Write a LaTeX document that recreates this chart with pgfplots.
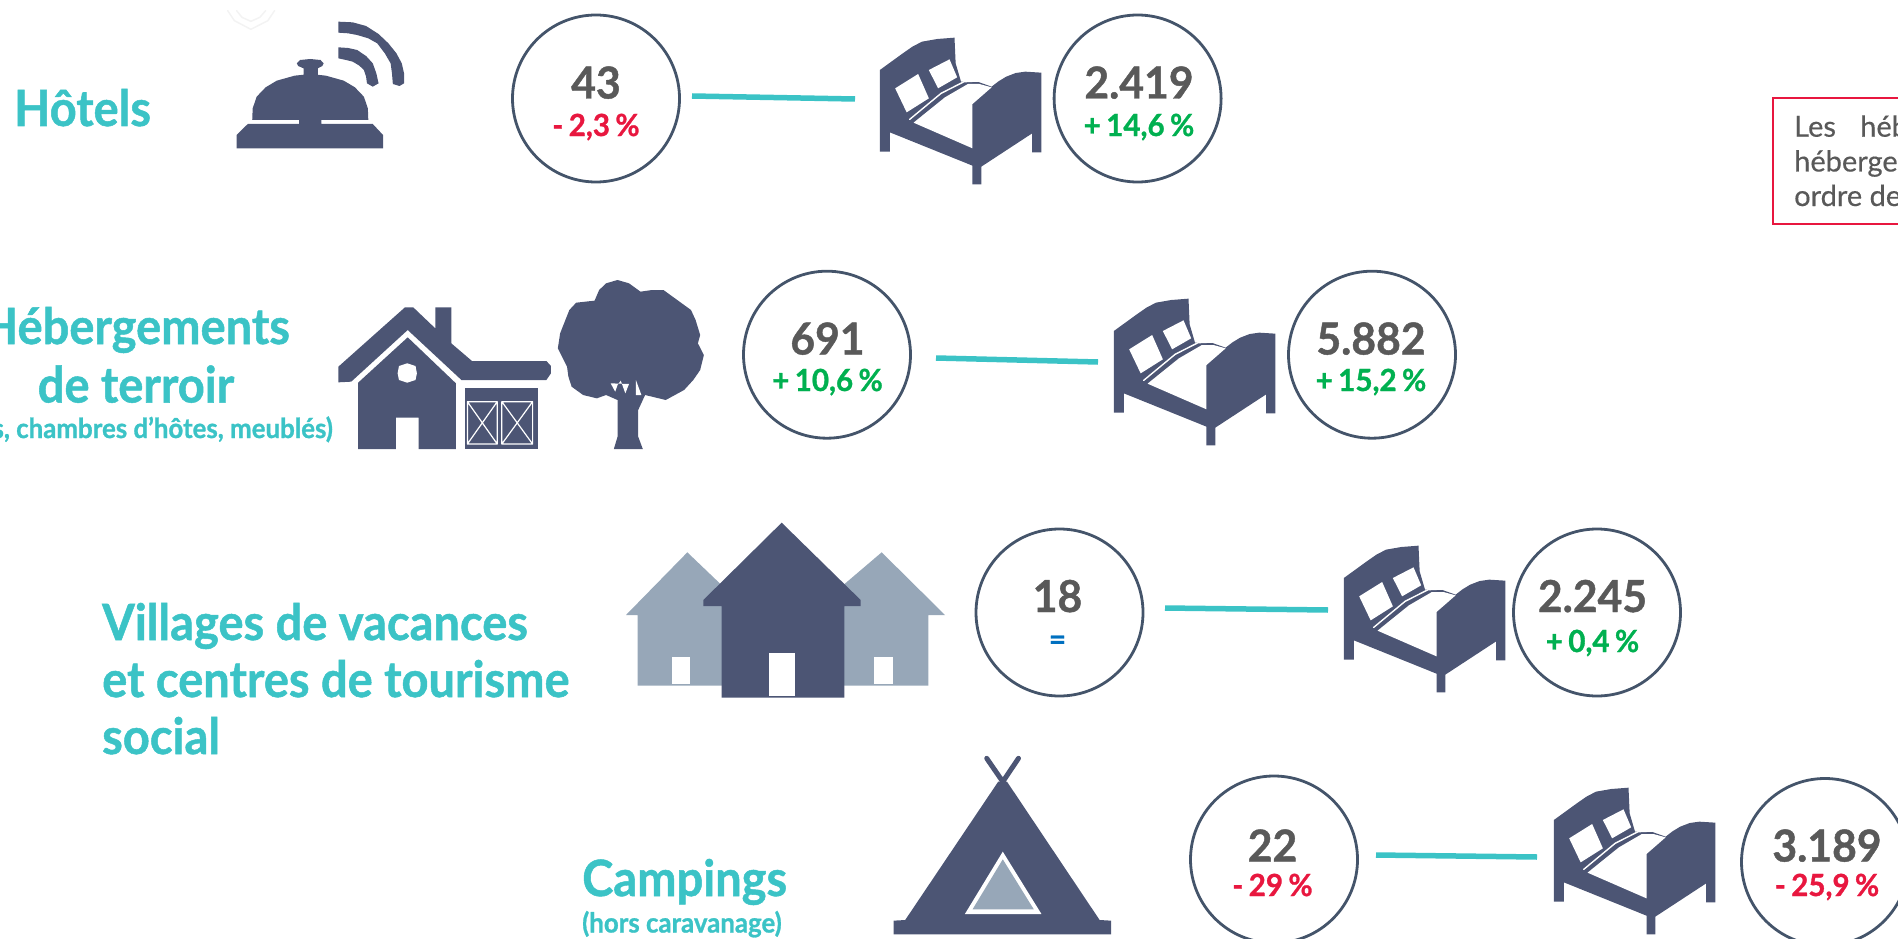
\documentclass[border=0pt]{standalone}
\usepackage{fontspec}
\setmainfont{Lato}
\newfontfamily\squeezed[FakeStretch=0.94,BoldFeatures={FakeBold=1}]{Lato}
\newfontfamily\figures[FakeStretch=0.97,WordSpace=0.75,BoldFeatures={FakeBold=1}]{Lato}
\newfontfamily\notefont[FakeBold=0.4]{Lato}
\usepackage{pgfplots}
\usepackage{pgfplotstable}
\pgfplotsset{compat=1.18}

\definecolor{teal1}{HTML}{3BC3C6}
\definecolor{navy}{HTML}{4C5574}
\definecolor{slate}{HTML}{97A7B8}
\definecolor{ring}{HTML}{44546A}
\definecolor{txt}{HTML}{595959}
\definecolor{neg}{HTML}{E8173F}
\definecolor{pos}{HTML}{00B050}
\definecolor{same}{HTML}{0070C0}
\definecolor{faint}{HTML}{F3F3F3}

% icon outlines, read off the zoomed crops
\pgfplotstableread{
x y
470 210
500 185
530 160
555 140
580 125
620 117
665 113
668 190
682 245
720 243
762 260
780 244
800 230
825 219
850 215
892 218
892 457
868 457
868 400
735 500
735 553
712 553
712 497
496 397
496 455
470 455
}\bedouter
\pgfplotstableread{
x y
510 265
570 222
598 295
540 337
}\pillowa
\pgfplotstableread{
x y
598 210
652 178
672 232
622 265
}\pillowb
\pgfplotstableread{
x y
558 368
640 292
700 252
730 252
762 262
712 312
712 445
}\blanket
\pgfplotstableread{
x y
548 358
630 280
690 245
730 243
}\fold

\pgfplotstableread{
x y
565 360
566 325
575 290
595 262
620 242
660 227
695 222
730 227
770 242
795 262
815 290
824 325
825 360
720 360
720 372
835 372
858 405
858 445
530 445
530 405
555 372
670 372
670 360
}\bell
\pgfplotstableread{
x y
680 225
680 205
668 198
665 190
672 180
695 177
718 180
725 190
722 198
712 205
712 225
}\knob
\pgfplotstableread{
x y
758 65
790 67
820 78
848 102
870 130
888 160
900 190
905 220
905 250
895 258
880 252
878 220
875 190
862 160
845 130
825 115
800 105
780 100
758 98
}\wavea
\pgfplotstableread{
x y
758 142
780 144
800 150
820 168
835 190
843 220
848 250
835 260
822 250
820 230
815 210
805 197
790 185
775 180
758 175
}\waveb
\pgfplotstableread{
x y
510 32
525 62
562 88
600 62
615 32
}\ghosta
\pgfplotstableread{
x y
530 32
542 52
562 64
582 52
595 32
}\ghostb

\pgfplotstableread{
x y
737 320
882 142
900 142
948 205
948 142
983 142
983 250
1028 303
1190 303
1200 318
1200 340
1190 360
1005 360
888 210
765 365
737 367
}\roof
\pgfplotstableread{
x y
780 368
888 232
993 370
993 567
912 567
912 473
862 473
862 567
780 567
}\housebody
\pgfplotstableread{
x y
887 310
905 318
908 340
905 360
887 368
869 360
866 340
869 318
}\housewin
\pgfplotstableread{
x y
1012 385
1172 385
1172 567
1012 567
}\garage
\pgfplotstableread{
x y
1018 425
1083 425
1083 552
1018 552
1018 425
1083 552
1018 552
1083 425
}\garagea
\pgfplotstableread{
x y
1093 425
1160 425
1160 552
1093 552
1093 425
1160 552
1093 552
1160 425
}\garageb
\pgfplotstableread{
x y
1345 60
1370 70
1395 95
1420 90
1445 90
1465 110
1480 125
1505 150
1515 180
1525 225
1520 250
1533 285
1525 330
1510 360
1490 390
1450 420
1405 405
1390 450
1390 530
1400 567
1337 567
1345 530
1345 420
1320 405
1300 415
1270 405
1245 380
1238 350
1235 320
1215 265
1220 220
1240 150
1255 128
1295 122
1305 90
1320 70
}\tree
\pgfplotstableread{
x y
1330 370
1340 395
1345 375
1352 362
1362 400
1370 372
}\specka
\pgfplotstableread{
x y
1385 360
1397 405
1385 405
}\speckb

\pgfplotstableread{
x y
262 127
375 235
370 527
113 527
113 315
78 315
}\hleft
\pgfplotstableread{
x y
845 127
1035 315
985 315
985 527
730 527
730 225
}\hright
\pgfplotstableread{
x y
545 38
782 270
782 288
733 288
733 563
365 563
365 288
310 288
310 270
}\hmid
\pgfplotstableread{
x y
507 428
585 428
585 558
507 558
}\dmid
\pgfplotstableread{
x y
215 440
270 440
270 523
215 523
}\dleft
\pgfplotstableread{
x y
823 440
878 440
878 523
823 523
}\dright

\pgfplotstableread{
x y
1145 125
1168 125
1410 540
1440 542
1440 583
872 583
872 542
902 540
}\tent
\pgfplotstableread{
x y
1157 335
1258 522
1058 522
}\tentwhite
\pgfplotstableread{
x y
1157 358
1238 508
1078 508
}\tentgrey
\pgfplotstableread{
x y
1115 55
1157 125
1198 55
}\poles

% zoom crops are 2.2 to 2.6 times wide and 3 times high
\newcommand{\shape}[5]{\addplot[fill=#1,draw=none,mark=none,forget plot]
  table[x expr=\thisrow{x}/#2+#3, y expr=\thisrow{y}/3+#4] {#5};}
\newcommand{\outline}[6]{\addplot[draw=#1,line width=#2,mark=none,forget plot,line cap=round,line join=round]
  table[x expr=\thisrow{x}/#3+#4, y expr=\thisrow{y}/3+#5] {#6};}

\newcommand{\bed}[2]{%
  \shape{navy}{2.613}{#1}{#2}{\bedouter}
  \shape{white}{2.613}{#1}{#2}{\pillowa}
  \shape{white}{2.613}{#1}{#2}{\pillowb}
  \shape{white}{2.613}{#1}{#2}{\blanket}
  \outline{white}{1.4pt}{2.613}{#1}{#2}{\fold}}

% ring centre x, big figure baseline, small figure baseline
\newcommand{\bubble}[6]{%
  \node[anchor=base,inner sep=0pt,text=txt,font=\fontsize{44}{50}\figures\selectfont\bfseries] at (axis cs:#1,#2) {#4};
  \node[anchor=base,inner sep=0pt,text=#6,font=\fontsize{30.5}{36}\figures\selectfont\bfseries] at (axis cs:#1,#3) {#5};}

\newcommand{\bigfont}{\fontsize{50}{60}\squeezed\selectfont\bfseries}
\newcommand{\subfont}{\fontsize{27.5}{32}\squeezed\selectfont\bfseries}
\newcommand{\notesize}{\fontsize{29}{34}\notefont\selectfont}

\begin{document}
\begin{tikzpicture}
\begin{axis}[
    name=plan,
    scale only axis,
    width=1898pt,
    height=939pt,
    xmin=0, xmax=1898,
    ymin=0, ymax=939,
    y dir=reverse,
    hide axis,
    clip=true,
]
% connectors
\addplot[teal1,line width=5.5pt,forget plot] coordinates {(692,96) (855,99)};
\addplot[teal1,line width=5.5pt,forget plot] coordinates {(936,358) (1098,362)};
\addplot[teal1,line width=5.5pt,forget plot] coordinates {(1165,608) (1328,610)};
\addplot[teal1,line width=5.5pt,forget plot] coordinates {(1376,855) (1537,857)};

% rings
\addplot[only marks,mark=o,mark size=83.5pt,forget plot,
    mark options={draw=ring,line width=2.8pt}] coordinates {
    (596,98.5) (1137.6,98.5)
    (827,354.7) (1372,354.7)
    (1059.5,612.5) (1597,612.5)
    (1274,859.5) (1825,862)
};

% bell
\outline{faint}{1.5pt}{2.24}{0}{0}{\ghosta}
\outline{faint}{1.5pt}{2.24}{0}{0}{\ghostb}
\shape{navy}{2.24}{0}{0}{\bell}
\shape{navy}{2.24}{0}{0}{\knob}
\shape{navy}{2.24}{0}{0}{\wavea}
\shape{navy}{2.24}{0}{0}{\waveb}

% house and tree
\shape{navy}{2.178}{0}{260}{\roof}
\shape{navy}{2.178}{0}{260}{\housebody}
\shape{white}{2.178}{0}{260}{\housewin}
\shape{navy}{2.178}{0}{260}{\garage}
\outline{white}{1.2pt}{2.178}{0}{260}{\garagea}
\outline{white}{1.2pt}{2.178}{0}{260}{\garageb}
\shape{navy}{2.178}{0}{260}{\tree}
\shape{white}{2.178}{0}{260}{\specka}
\shape{white}{2.178}{0}{260}{\speckb}

% village
\shape{slate}{3}{600}{510}{\hleft}
\shape{slate}{3}{600}{510}{\hright}
\shape{white}{3}{600}{510}{\dleft}
\shape{white}{3}{600}{510}{\dright}
\shape{navy}{3}{600}{510}{\hmid}
\shape{white}{3}{600}{510}{\dmid}

% tent
\shape{navy}{2.613}{560}{740}{\tent}
\shape{white}{2.613}{560}{740}{\tentwhite}
\shape{slate}{2.613}{560}{740}{\tentgrey}
\outline{navy}{5pt}{2.613}{560}{740}{\poles}

% beds
\bed{700}{0}
\bed{934}{261}
\bed{1164}{508}
\bed{1374}{750}

% note box, cut by the right edge
\addplot[draw=neg,line width=2.6pt,forget plot] coordinates {(1910,98) (1773,98) (1773,224) (1910,224)};
\node[anchor=base west,inner sep=0pt,text=txt,font=\notesize] at (axis cs:1794,136.7) {Les};
\node[anchor=base west,inner sep=0pt,text=txt,font=\notesize] at (axis cs:1860,136.7) {héb};
\node[anchor=base west,inner sep=0pt,text=txt,font=\notesize] at (axis cs:1794,171.5) {héberge};
\node[anchor=base west,inner sep=0pt,text=txt,font=\notesize] at (axis cs:1794,206) {ordre de};

% names
\node[anchor=base west,inner sep=0pt,text=teal1,font=\bigfont] at (axis cs:14,126) {Hôtels};
\node[anchor=base,inner sep=0pt,text=teal1,font=\bigfont] at (axis cs:136,344) {Hébergements};
\node[anchor=base,inner sep=0pt,text=teal1,font=\bigfont] at (axis cs:136,402.5) {de terroir};
\node[anchor=base east,inner sep=0pt,text=teal1,font=\subfont] at (axis cs:333,438) {s, chambres d’hôtes, meublés)};
\node[anchor=base west,inner sep=0pt,text=teal1,font=\bigfont] at (axis cs:102,640) {Villages de vacances};
\node[anchor=base west,inner sep=0pt,text=teal1,font=\bigfont] at (axis cs:102,697) {et centres de tourisme};
\node[anchor=base west,inner sep=0pt,text=teal1,font=\bigfont] at (axis cs:102,754) {social};
\node[anchor=base west,inner sep=0pt,text=teal1,font=\bigfont] at (axis cs:582,896) {Campings};
\node[anchor=base west,inner sep=0pt,text=teal1,font=\subfont] at (axis cs:582,932.5) {(hors caravanage)};

% figures in the rings
\bubble{596}{98.5}{136}{43}{- 2,3 \%}{neg}
\bubble{1139}{98.5}{136}{2.419}{+ 14,6 \%}{pos}
\bubble{827.5}{354.5}{391}{691}{+ 10,6 \%}{pos}
\bubble{1371}{354.5}{391}{5.882}{+ 15,2 \%}{pos}
\bubble{1057.5}{612}{650}{18}{=}{same}
\bubble{1592.5}{612}{652}{2.245}{+ 0,4 \%}{pos}
\bubble{1272.5}{861.5}{896}{22}{- 29 \%}{neg}
\bubble{1827}{861.5}{896}{3.189}{- 25,9 \%}{neg}
\end{axis}
\pgfresetboundingbox
\useasboundingbox (plan.south west) rectangle (plan.north east);
\end{tikzpicture}
\end{document}
